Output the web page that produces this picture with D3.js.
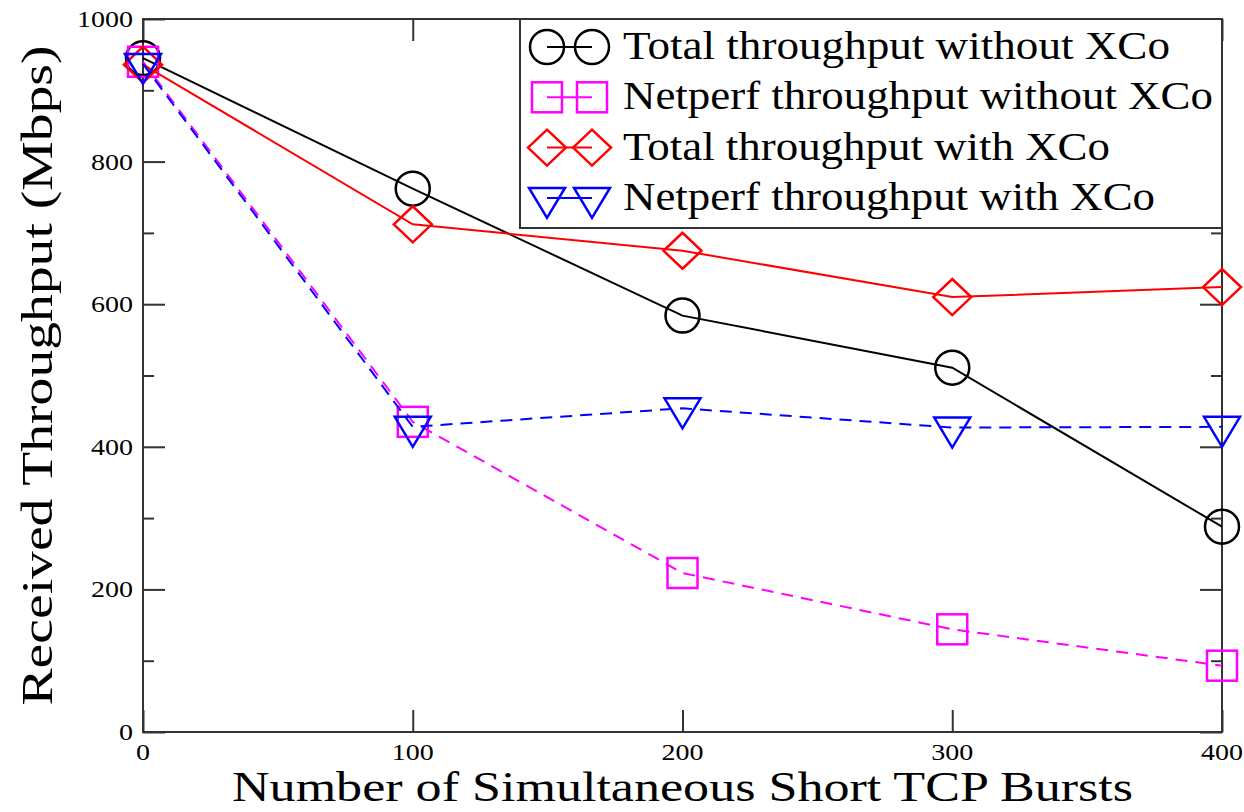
<!DOCTYPE html>
<html>
<head>
<meta charset="utf-8">
<title>Received Throughput</title>
<script src="https://cdn.jsdelivr.net/npm/d3@7"></script>
<style>
body { margin: 0; background: #fff; }
svg text { font-family: "Liberation Serif", LiberationSerif, Tinos, "Nimbus Roman", FreeSerif, "DejaVu Serif", serif; fill: #000; }
</style>
</head>
<body>
<svg width="1244" height="812"></svg>
<script>

// data
var bursts = [0, 100, 200, 300, 400];
var totalNoXco   = [945, 762, 584, 511, 288];
var netperfNoXco = [940, 435, 223, 144, 93];
var totalXco     = [936, 712, 675, 610, 624];
var netperfXco   = [937, 428, 454, 427, 428];
var xTicks = [0, 100, 200, 300, 400];
var yTicks = [0, 200, 400, 600, 800, 1000];
var yMinor = [100, 300, 500, 700, 900];

var series = [
  {name: "Total throughput without XCo",   values: totalNoXco,   color: "#000000", dash: null,   shape: "circle"},
  {name: "Netperf throughput without XCo", values: netperfNoXco, color: "#ff00ff", dash: "12,8", shape: "square"},
  {name: "Total throughput with XCo",      values: totalXco,     color: "#ff0000", dash: null,   shape: "diamond"},
  {name: "Netperf throughput with XCo",    values: netperfXco,   color: "#0000ff", dash: "12,8", shape: "triangle"}
];

var svg = d3.select("svg"),
    margin = {top: 19, right: 22, bottom: 80, left: 143},
    width = +svg.attr("width") - margin.left - margin.right,
    height = +svg.attr("height") - margin.top - margin.bottom,
    g = svg.append("g").attr("transform", "translate(" + margin.left + "," + margin.top + ")");

var x = d3.scaleLinear().domain([0, 400]).range([0, width]);
var y = d3.scaleLinear().domain([0, 1000]).range([height, 0]);

// fit a text to the width it has in the original figure
function fit(sel, w) {
  sel.attr("textLength", w).attr("lengthAdjust", "spacingAndGlyphs");
}

// frame
g.append("rect")
    .attr("width", width)
    .attr("height", height)
    .attr("fill", "none")
    .attr("stroke", "#333")
    .attr("stroke-width", 2);

// inward ticks on all four sides
var axes = [
  g.append("g").attr("transform", "translate(0," + height + ")").call(d3.axisTop(x).tickValues(xTicks).tickSize(22).tickFormat("")),
  g.append("g").call(d3.axisBottom(x).tickValues(xTicks).tickSize(22).tickFormat("")),
  g.append("g").call(d3.axisRight(y).tickValues(yTicks).tickSize(22).tickFormat("")),
  g.append("g").call(d3.axisRight(y).tickValues(yMinor).tickSize(11).tickFormat("")),
  g.append("g").attr("transform", "translate(" + width + ",0)").call(d3.axisLeft(y).tickValues(yTicks).tickSize(22).tickFormat("")),
  g.append("g").attr("transform", "translate(" + width + ",0)").call(d3.axisLeft(y).tickValues(yMinor).tickSize(11).tickFormat(""))
];
axes.forEach(function(a) {
  a.select(".domain").remove();
  a.selectAll("line").attr("stroke", "#333").attr("stroke-width", 2);
});

// tick labels, about 14px per digit in the original
g.append("g").selectAll("text").data(xTicks).join("text")
    .attr("x", function(d) { return x(d); })
    .attr("y", height + 28)
    .attr("text-anchor", "middle")
    .attr("font-size", 24)
    .text(function(d) { return d; })
    .each(function(d) { fit(d3.select(this), String(d).length * 14); });

g.append("g").selectAll("text").data(yTicks).join("text")
    .attr("x", -10)
    .attr("y", function(d) { return y(d) + 8; })
    .attr("text-anchor", "end")
    .attr("font-size", 24)
    .text(function(d) { return d; })
    .each(function(d) { fit(d3.select(this), String(d).length * 14); });

// axis titles
svg.append("text")
    .attr("x", margin.left + width / 2)
    .attr("y", 801)
    .attr("text-anchor", "middle")
    .attr("font-size", 43)
    .text("Number of Simultaneous Short TCP Bursts")
    .call(fit, 901);

svg.append("text")
    .attr("transform", "translate(52," + (margin.top + height / 2) + ") rotate(-90)")
    .attr("text-anchor", "middle")
    .attr("font-size", 45)
    .text("Received Throughput (Mbps)")
    .call(fit, 660);

// marker shapes
function marker(sel, shape, color) {
  var p;
  if (shape === "circle") {
    p = sel.append("circle").attr("r", 17);
  } else if (shape === "square") {
    p = sel.append("rect").attr("x", -15).attr("y", -15).attr("width", 30).attr("height", 30);
  } else if (shape === "diamond") {
    p = sel.append("path").attr("d", "M-19,0L0,-18L19,0L0,18Z");
  } else {
    p = sel.append("path").attr("d", "M-18,-10L18,-10L0,20Z");
  }
  p.attr("fill", "none").attr("stroke", color).attr("stroke-width", 2.5);
}

var line = d3.line()
    .x(function(d, i) { return x(bursts[i]); })
    .y(function(d) { return y(d); });

series.forEach(function(s) {
  g.append("path")
      .datum(s.values)
      .attr("d", line)
      .attr("fill", "none")
      .attr("stroke", s.color)
      .attr("stroke-width", 2)
      .attr("stroke-dasharray", s.dash);

  g.append("g").selectAll("g").data(s.values).join("g")
      .attr("transform", function(d, i) { return "translate(" + x(bursts[i]) + "," + y(d) + ")"; })
      .each(function() { marker(d3.select(this), s.shape, s.color); });
});

// legend
var legendWidths = [547, 590, 487, 532];
var leg = svg.append("g").attr("transform", "translate(520,19)");
leg.append("rect")
    .attr("width", 702)
    .attr("height", 209)
    .attr("fill", "#fff")
    .attr("stroke", "#333")
    .attr("stroke-width", 2);

var row = leg.selectAll("g.row").data(series).join("g")
    .attr("class", "row")
    .attr("transform", function(d, i) { return "translate(0," + (28 + i * 50.3) + ")"; });

row.each(function(s, i) {
  var r = d3.select(this);
  r.append("line")
      .attr("x1", 27).attr("x2", 72)
      .attr("stroke", s.color)
      .attr("stroke-width", 2);
  marker(r.append("g").attr("transform", "translate(27,0)"), s.shape, s.color);
  marker(r.append("g").attr("transform", "translate(72,0)"), s.shape, s.color);
  r.append("text")
      .attr("x", 103)
      .attr("y", 12)
      .attr("font-size", 41)
      .text(s.name)
      .call(fit, legendWidths[i]);
});

</script>
</body>
</html>
